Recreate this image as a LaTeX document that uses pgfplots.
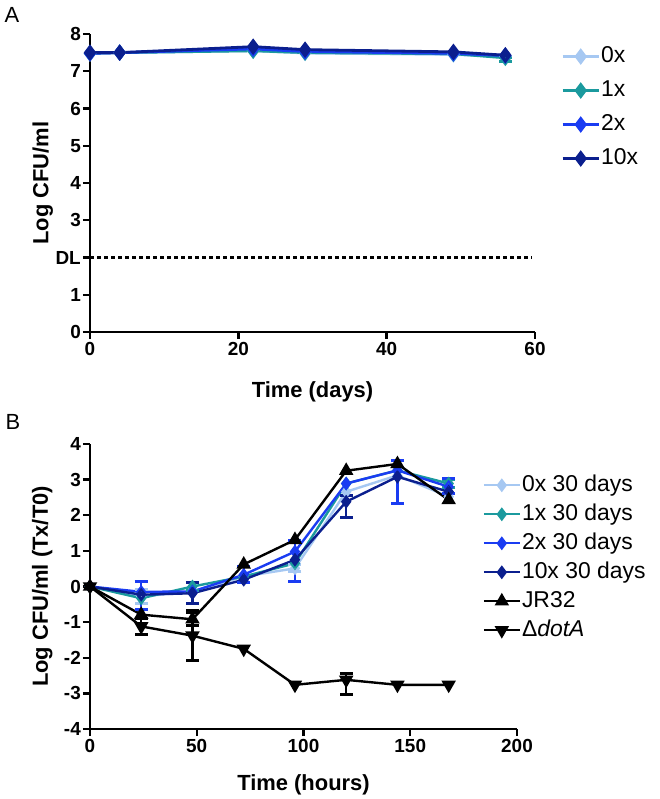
\documentclass[border=0pt]{standalone}
\usepackage{fontspec}
\setmainfont{Liberation Sans}
\usepackage{pgfplots}
\pgfplotsset{compat=1.18}
\definecolor{c0}{HTML}{A6C8F2}
\definecolor{c1}{HTML}{1B9A9E}
\definecolor{c2}{HTML}{1A3CF2}
\definecolor{c3}{HTML}{0B1F8E}
\pgfplotsset{
  gp/.style={
    scale only axis, clip=false,
    axis lines*=left,
    axis line style={-, line width=2.6bp, black},
    tick style={line width=2.4bp, black},
    major tick length=7bp,
    tick align=outside,
    ticklabel style={font=\fontsize{19}{19}\selectfont\bfseries},
    yticklabel style={inner sep=2bp},
    xticklabel style={inner sep=3bp},
    every axis y label/.style={rotate=90, anchor=center, font=\fontsize{22}{22}\selectfont\bfseries},
    every axis x label/.style={anchor=center, font=\fontsize{22}{22}\selectfont\bfseries},
    legend cell align=left,
    legend style={draw=none, fill=none, font=\fontsize{23}{23}\selectfont,
      nodes={inner sep=1bp, text height=17bp, text depth=5bp}},
    legend image code/.code={\draw[mark repeat=2,mark phase=2,#1] plot coordinates {(0bp,0bp) (18bp,0bp) (36bp,0bp)};},
  },
  lnA/.style={line width=2.8bp, mark=diamond*, mark size=6bp, mark options={solid}},
  lnB/.style={line width=2.4bp, mark=diamond*, mark size=5bp, mark options={solid}},
  eb/.style={forget plot, only marks, mark=*, mark size=0.1bp,
    error bars/y dir=both, error bars/y explicit,
    error bars/error mark=|,
    error bars/error bar style={line width=2.4bp},
    error bars/error mark options={line width=3bp, mark size=6.5bp}},
}
\begin{document}
\begin{tikzpicture}
\useasboundingbox (0,0) rectangle (660bp,799bp);
\node[font=\fontsize{22}{22}\selectfont] at (12bp,784bp) {A};
\node[font=\fontsize{22}{22}\selectfont] at (13bp,377bp) {B};
% ---------------- Panel A ----------------
\begin{axis}[gp,
  at={(90bp,467bp)}, anchor=south west,
  width=445bp, height=298bp,
  xmin=0, xmax=60, ymin=0, ymax=8,
  xtick={0,20,40,60}, xticklabels={0,20,40,60},
  ytick={0,1,2,3,4,5,6,7,8}, yticklabels={0,1,DL,3,4,5,6,7,8},
  xlabel={Time (days)}, ylabel={Log CFU/ml},
  xlabel style={at={(axis description cs:0.5,-0.201)}},
  ylabel style={at={(axis description cs:-0.106,0.5)}},
  legend style={at={(axis description cs:1.052,0.972)}, anchor=north west, row sep=10bp},
]
\addplot[lnA, c0] coordinates {(0,7.48) (4,7.50) (22,7.55) (29,7.49) (49,7.45) (56,7.40)};
\addlegendentry{0x}
\addplot[lnA, c1] coordinates {(0,7.48) (4,7.50) (22,7.55) (29,7.50) (49,7.47) (56,7.36)};
\addlegendentry{1x}
\addplot[lnA, c2] coordinates {(0,7.48) (4,7.50) (22,7.60) (29,7.53) (49,7.48) (56,7.42)};
\addlegendentry{2x}
\addplot[lnA, c3] coordinates {(0,7.50) (4,7.50) (22,7.66) (29,7.58) (49,7.52) (56,7.43)};
\addlegendentry{10x}
\addplot[c1, eb] coordinates {(56,7.36) += (0,0) -= (0,0.09)};
\addplot[forget plot, black, line width=2.2bp, dash pattern=on 4bp off 3bp] coordinates {(0,2) (59.6,2)};
\end{axis}
% ---------------- Panel B ----------------
\begin{axis}[gp,
  at={(90bp,70bp)}, anchor=south west,
  width=427bp, height=285bp,
  xmin=0, xmax=200, ymin=-4, ymax=4,
  xtick={0,50,100,150,200}, xticklabels={0,50,100,150,200},
  ytick={-4,-3,-2,-1,0,1,2,3,4}, yticklabels={-4,-3,-2,-1,0,1,2,3,4},
  xlabel={Time (hours)}, ylabel={Log CFU/ml (Tx/T0)},
  xlabel style={at={(axis description cs:0.5,-0.196)}},
  ylabel style={at={(axis description cs:-0.112,0.5)}},
  legend style={at={(axis description cs:0.912,0.905)}, anchor=north west, row sep=5bp},
]
\addplot[lnB, c0] coordinates {(0,0) (24,-0.28) (48,-0.14) (72,0.28) (96,0.51) (120,2.66) (144,3.12) (168,2.52)};
\addlegendentry{0x 30 days}
\addplot[lnB, c1] coordinates {(0,0) (24,-0.33) (48,0.0) (72,0.28) (96,0.65) (120,2.89) (144,3.26) (168,2.89)};
\addlegendentry{1x 30 days}
\addplot[lnB, c2] coordinates {(0,0) (24,-0.15) (48,-0.14) (72,0.33) (96,0.98) (120,2.89) (144,3.26) (168,2.80)};
\addlegendentry{2x 30 days}
\addplot[lnB, c3] coordinates {(0,0) (24,-0.23) (48,-0.19) (72,0.19) (96,0.75) (120,2.38) (144,3.08) (168,2.66)};
\addlegendentry{10x 30 days}
\addplot[line width=2.4bp, black, mark=triangle*, mark size=6bp, mark options={solid}] coordinates {(0,0) (24,-0.79) (48,-0.92) (72,0.62) (96,1.31) (120,3.25) (144,3.44) (168,2.43)};
\addlegendentry{JR32}
\addplot[line width=2.4bp, black, mark=triangle*, mark size=6bp, mark options={solid, rotate=180}] coordinates {(0,0) (24,-1.12) (48,-1.38) (72,-1.75) (96,-2.76) (120,-2.62) (144,-2.76) (168,-2.76)};
\addlegendentry{Δ\textit{dotA}}
% error bars
\addplot[c0, eb] coordinates {(24,-0.28) +- (0,0.2) (96,0.51) +- (0,0.1)};
\addplot[c1, eb] coordinates {(48,0.0) +- (0,0.1) (168,2.89) +- (0,0.1)};
\addplot[c2, eb] coordinates {(24,-0.15) += (0,0.30) -= (0,0.50) (72,0.33) +- (0,0.22) (96,0.98) += (0,0.32) -= (0,0.84) (144,3.26) += (0,0.28) -= (0,0.93) (168,2.80) += (0,0.23) -= (0,0.2)};
\addplot[c3, eb] coordinates {(48,-0.19) +- (0,0.29) (120,2.38) += (0,0.18) -= (0,0.44)};
\addplot[black, eb] coordinates {(48,-0.92) +- (0,0.18) (24,-1.12) +- (0,0.22) (48,-1.38) +- (0,0.70) (120,-2.62) += (0,0.19) -= (0,0.42)};
\end{axis}
\end{tikzpicture}
\end{document}
